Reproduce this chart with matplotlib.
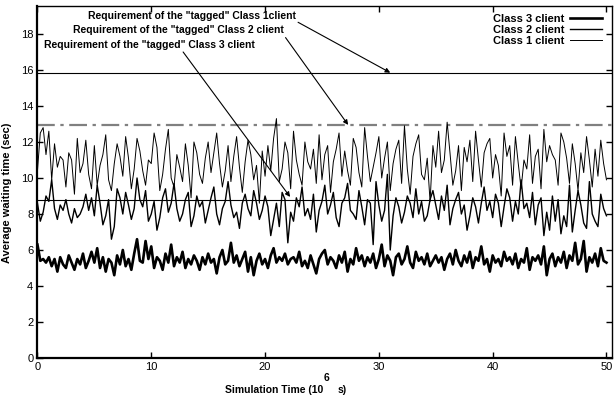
import numpy as np
import matplotlib
matplotlib.use("Agg")
import matplotlib.pyplot as plt

plt.rcParams['font.family'] = ['Liberation Sans', 'DejaVu Sans']

class3 = [6.3, 5.4, 5.5, 5.3, 5.6, 5.1, 5.5, 4.8, 5.6, 5.2, 5.0, 5.7, 5.3, 4.9, 5.5, 5.2, 5.8, 5.0, 5.4, 5.9,
          5.3, 6.1, 5.0, 5.6, 4.8, 5.5, 5.3, 4.6, 5.7, 5.2, 6.0, 5.1, 5.5, 4.9, 5.8, 6.6, 5.4, 5.3, 6.5, 5.5,
          6.2, 5.0, 5.6, 5.4, 4.9, 5.8, 5.3, 6.3, 5.1, 5.6, 5.3, 5.9, 5.0, 5.5, 5.2, 5.7, 5.4, 4.9, 5.6, 5.2,
          5.8, 5.3, 5.5, 4.7, 5.6, 6.0, 5.2, 5.4, 6.4, 5.3, 5.7, 5.1, 5.5, 5.9, 4.8, 5.6, 4.6, 5.4, 5.8, 5.2,
          5.5, 5.0, 5.7, 6.1, 5.3, 5.6, 5.4, 5.8, 5.2, 5.5, 5.6, 5.3, 5.9, 5.1, 5.4, 5.0, 5.7, 5.2, 4.7, 5.5,
          5.8, 6.0, 5.2, 5.6, 5.4, 5.0, 5.7, 5.3, 5.9, 4.8, 5.5, 5.2, 6.1, 5.4, 5.7, 5.1, 5.6, 5.3, 5.8, 5.0,
          5.5, 6.3, 5.1, 5.7, 5.4, 4.6, 5.6, 5.8, 5.2, 5.5, 6.2, 5.3, 5.0, 5.9, 5.4, 5.6, 5.2, 5.8, 5.1, 5.4,
          5.7, 5.3, 5.6, 4.9, 5.5, 5.8, 5.2, 6.0, 5.4, 5.1, 5.7, 5.3, 5.9, 5.0, 5.6, 5.4, 6.2, 5.2, 5.5, 4.8,
          5.7, 5.3, 5.5, 5.1, 5.9, 5.4, 5.6, 5.2, 5.8, 5.0, 5.5, 5.3, 6.1, 4.9, 5.6, 5.4, 5.7, 5.2, 6.2, 4.6,
          5.5, 5.8, 5.1, 5.6, 5.3, 5.9, 5.0, 5.7, 5.4, 6.4, 5.2, 5.5, 6.5, 4.8, 5.6, 5.3, 5.8, 5.1, 6.1, 5.4,
          5.3]

class2 = [8.6, 7.6, 8.1, 9.0, 8.7, 9.9, 8.3, 7.7, 8.5, 8.2, 8.8, 8.0, 7.5, 8.3, 7.8, 8.0, 8.4, 9.1, 8.2, 8.9,
          7.9, 9.6, 8.6, 7.4, 7.9, 8.8, 6.6, 7.3, 9.4, 8.9, 8.0, 9.2, 8.5, 7.7, 8.3, 10.0, 8.8, 8.4, 9.3, 7.6,
          8.0, 8.7, 7.1, 7.8, 8.9, 9.4, 8.1, 8.6, 9.7, 8.3, 7.6, 8.0, 8.8, 9.2, 7.3, 7.9, 9.0, 8.4, 8.7, 7.5,
          8.2, 8.9, 9.5, 8.0, 7.4, 8.3, 8.7, 9.8, 8.5, 7.8, 8.1, 7.2, 8.6, 9.1, 8.3, 7.9, 9.3, 8.6, 7.7, 8.2,
          9.0, 8.4, 6.8, 7.7, 8.6, 7.3, 9.2, 8.8, 6.4, 8.1, 7.6, 8.9, 8.4, 9.5, 7.9, 8.3, 7.7, 9.1, 7.0, 8.2,
          8.7, 9.6, 8.0, 8.5, 9.2, 7.8, 7.3, 8.6, 8.9, 9.7, 8.2, 8.0, 7.7, 9.3, 8.4, 7.4, 8.8, 8.6, 6.3, 9.8,
          8.5, 7.6, 8.2, 10.2, 6.0, 7.9, 8.9, 8.4, 7.5, 8.1, 9.0, 8.6, 7.8, 9.4, 8.0, 8.7, 7.6, 7.9, 8.8, 9.3,
          8.5, 7.7, 9.0, 8.2, 9.6, 7.4, 8.3, 8.8, 9.2, 8.0, 8.5, 7.1, 7.9, 8.9, 8.4, 7.5, 8.6, 9.5, 8.2, 8.7,
          7.8, 9.1, 8.6, 7.3, 8.4, 9.4, 8.9, 7.6, 8.7, 8.0, 9.9, 8.3, 8.6, 7.8, 9.2, 7.4, 8.5, 8.9, 6.8, 8.1,
          7.1, 9.0, 7.6, 8.8, 6.9, 7.9, 7.3, 9.6, 7.0, 8.2, 9.3, 8.5, 7.5, 7.2, 9.8, 8.0, 7.6, 7.3, 9.1, 8.3,
          7.9]

class1 = [10.4, 12.5, 12.8, 11.3, 12.6, 9.9, 11.9, 10.6, 11.2, 11.0, 9.5, 11.4, 11.0, 9.1, 12.2, 10.3, 10.8, 12.1, 10.2, 9.4,
          11.8, 9.6, 10.7, 11.3, 12.4, 9.9, 9.3, 10.8, 11.9, 11.2, 10.1, 12.3, 11.1, 9.4, 10.5, 12.2, 11.5, 10.4, 9.6, 11.0,
          10.8, 12.5, 11.7, 9.3, 10.2, 11.6, 12.7, 10.0, 9.5, 11.3, 10.6, 9.8, 11.9, 10.7, 8.9, 12.0, 11.4, 10.2, 9.7, 11.1,
          12.0, 10.3, 11.4, 12.5, 10.8, 9.5, 10.4, 11.8, 9.8, 11.2, 12.3, 10.6, 9.2, 10.9, 12.1, 11.3, 9.9, 10.7, 8.6, 11.5,
          10.1, 11.8, 10.4, 12.2, 13.3, 9.8, 10.5, 12.0, 11.4, 9.4, 12.6, 11.0, 10.2, 9.6, 12.0, 10.9, 10.5, 11.6, 9.7, 12.4,
          9.9, 11.3, 11.8, 9.2, 10.9, 11.6, 12.5, 10.1, 11.5, 10.4, 9.6, 12.2, 11.7, 10.3, 9.5, 12.8, 11.2, 9.8, 10.6, 11.4,
          12.3, 10.0, 11.1, 12.0, 9.3, 10.8, 11.6, 12.1, 9.7, 12.9, 10.5, 9.1, 11.2, 11.9, 12.4, 10.2, 9.9, 11.1, 8.7, 11.8,
          10.6, 12.6, 10.3, 11.0, 13.1, 11.4, 9.6, 10.4, 11.8, 9.3, 11.7, 10.9, 12.1, 9.8, 12.6, 11.0, 9.5, 11.4, 11.9, 12.2,
          10.0, 11.3, 10.7, 9.0, 12.5, 11.2, 11.8, 9.6, 12.3, 10.8, 9.4, 11.0, 10.5, 12.4, 9.7, 11.2, 11.6, 9.4, 12.7, 10.9,
          11.8, 11.3, 11.0, 9.6, 12.5, 12.0, 11.1, 9.7, 11.9, 10.8, 9.3, 11.4, 10.3, 12.3, 11.0, 9.5, 11.6, 10.1, 12.1, 10.8,
          9.9]

req_class1 = 15.85
req_class2 = 12.95
req_class3 = 8.8

series_labels = ["Class 3 client", "Class 2 client", "Class 1 client"]
x_ticks = [0, 10, 20, 30, 40, 50]
y_ticks = [0, 2, 4, 6, 8, 10, 12, 14, 16, 18]

t = np.linspace(0, 50, len(class1))

fig = plt.figure(figsize=(6.14, 4.05), dpi=100)
ax = fig.add_axes([0.061, 0.116, 0.936, 0.869])

ax.axhline(req_class1, color='black', lw=0.8)
ax.axhline(req_class2, color='#808080', lw=1.6, dashes=(8, 2.5, 1.5, 2.5))
ax.axhline(req_class3, color='black', lw=0.8)

l3, = ax.plot(t, class3, color='black', lw=1.9, label=series_labels[0])
l2, = ax.plot(t, class2, color='black', lw=1.0, label=series_labels[1])
l1, = ax.plot(t, class1, color='black', lw=0.7, label=series_labels[2])

ax.set_xlim(0, 50.5)
ax.set_ylim(0, 19.55)
ax.set_xticks(x_ticks)
ax.set_yticks(y_ticks)
ax.tick_params(direction='in', top=True, right=True, length=4, width=1, labelsize=8, pad=3)
for s in ['left', 'bottom']:
    ax.spines[s].set_linewidth(1.6)
for s in ['top', 'right']:
    ax.spines[s].set_linewidth(1.0)

ax.set_ylabel("Average waiting time (sec)", fontsize=8, fontweight='bold', labelpad=6)
ax.yaxis.set_label_coords(-0.045, 0.47)

# x label with a raised exponent, as in the reference
fig.text(323 / 614, 1 - 393 / 405, "Simulation Time (10", fontsize=7.5, fontweight='bold', ha='right', va='baseline')
fig.text(327 / 614, 1 - 381 / 405, "6", fontsize=7.5, fontweight='bold', ha='center', va='baseline')
fig.text(338 / 614, 1 - 393 / 405, "s)", fontsize=7.5, fontweight='bold', ha='left', va='baseline')

leg = ax.legend(handles=[l3, l2, l1], loc='upper right', frameon=False, markerfirst=False,
                prop={'size': 8, 'weight': 'bold'}, handlelength=2.8, handletextpad=0.5,
                labelspacing=0.1, borderaxespad=0.3, bbox_to_anchor=(0.995, 1.0))

ax.text(13.6, 19.0, 'Requirement of the "tagged" Class 1client', fontsize=7.5, fontweight='bold', ha='center', va='center')
ax.text(12.4, 18.2, 'Requirement of the "tagged" Class 2 client', fontsize=7.5, fontweight='bold', ha='center', va='center')
ax.text(9.8, 17.4, 'Requirement of the "tagged" Class 3 client', fontsize=7.5, fontweight='bold', ha='center', va='center')

arrow = dict(arrowstyle='-|>', lw=0.8, color='black', mutation_scale=7, shrinkA=0, shrinkB=0)
ax.annotate('', xy=(31.0, req_class1), xytext=(22.9, 18.65), arrowprops=arrow)
ax.annotate('', xy=(27.3, req_class2), xytext=(21.8, 17.8), arrowprops=arrow)
ax.annotate('', xy=(22.2, 8.95), xytext=(12.8, 17.0), arrowprops=arrow)

fig.savefig("out.png", dpi=100)
